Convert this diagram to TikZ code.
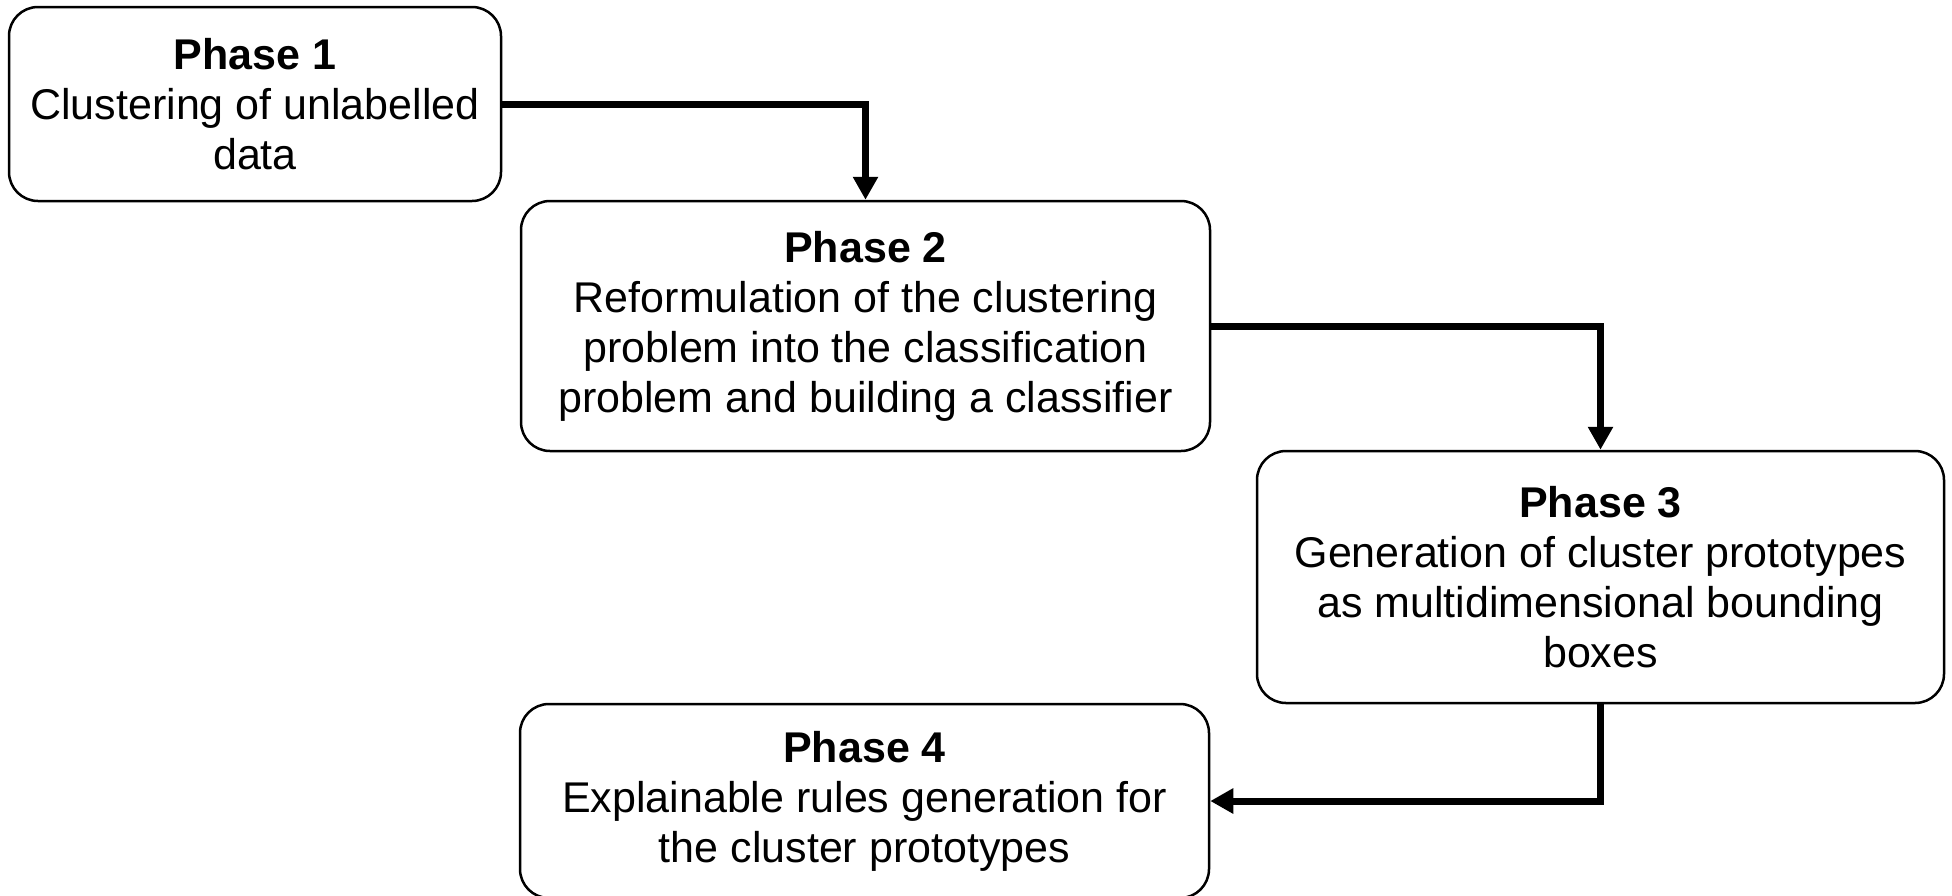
\documentclass[tikz,border=0pt]{standalone}
\usepackage{fontspec}
\setmainfont{Liberation Sans}
\usetikzlibrary{arrows.meta}

\tikzset{
  phasebox/.style={draw=black, line width=2.5pt, rounded corners=29pt,
    fill=white, align=center, inner sep=0pt,
    font=\fontsize{43}{50}\selectfont},
  flow/.style={line width=7pt, -{Triangle[length=23pt,width=24pt]}}
}

\begin{document}
\begin{tikzpicture}[x=1pt, y=-1pt]
  \useasboundingbox (0,0) rectangle (1952,895);

  \node[phasebox, minimum width=492pt, minimum height=194pt] (p1) at (255,104)
    {\textbf{Phase 1}\\Clustering of unlabelled\\data};
  \node[phasebox, minimum width=689pt, minimum height=250pt] (p2) at (865.5,326)
    {\textbf{Phase 2}\\Reformulation of the clustering\\problem into the classification\\problem and building a classifier};
  \node[phasebox, minimum width=687pt, minimum height=252pt] (p3) at (1600.5,577)
    {\textbf{Phase 3}\\Generation of cluster prototypes\\as multidimensional bounding\\boxes};
  \node[phasebox, minimum width=689pt, minimum height=194pt] (p4) at (864.5,801)
    {\textbf{Phase 4}\\Explainable rules generation for\\the cluster prototypes};

  \draw[flow] (p1.east) -| (p2.north);
  \draw[flow] (p2.east) -| (p3.north);
  \draw[flow] (p3.south) |- (p4.east);
\end{tikzpicture}
\end{document}
